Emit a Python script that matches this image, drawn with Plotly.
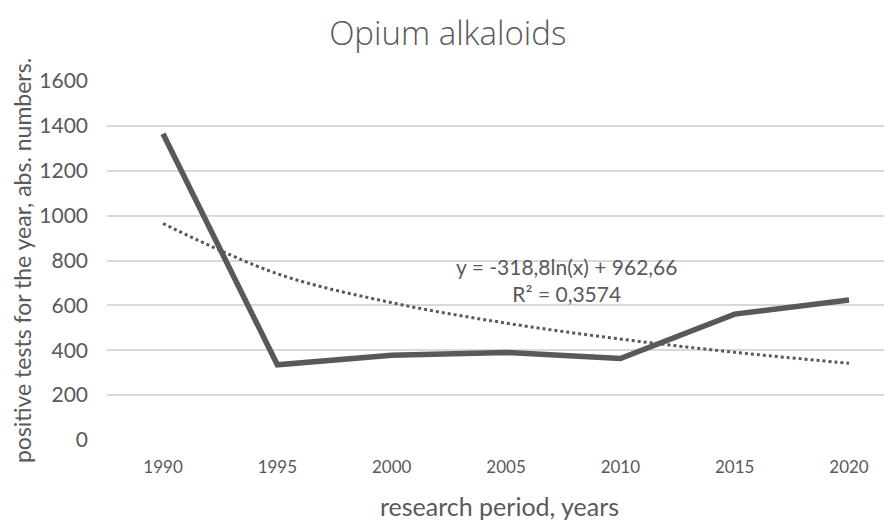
import plotly.graph_objects as go

years = ["1990", "1995", "2000", "2005", "2010", "2015", "2020"]
positives = [1365, 335, 378, 390, 363, 561, 624]
trend_values = [965, 741, 612, 521, 450, 391, 342]
y_ticks = [0, 200, 400, 600, 800, 1000, 1200, 1400, 1600]

FONT = "Lato"
GREY = "#595959"

fig = go.Figure()
fig.add_trace(go.Scatter(x=list(range(len(years))), y=positives, mode="lines",
                         line=dict(color=GREY, width=5.5), showlegend=False))
fig.add_trace(go.Scatter(x=list(range(len(years))), y=trend_values, mode="lines",
                         line=dict(color=GREY, width=3, dash="dot", shape="spline"),
                         showlegend=False))

fig.add_annotation(x=3.525, y=713, xref="x", yref="y",
                   text="y = -318,8ln(x) + 962,66<br>R² = 0,3574",
                   showarrow=False, font=dict(family=FONT, size=21, color=GREY),
                   align="center", yanchor="middle")

fig.update_layout(
    width=892, height=523,
    paper_bgcolor="white", plot_bgcolor="white",
    margin=dict(l=99, r=8, t=73, b=91),
    title=dict(text="Opium alkaloids", x=0.493, xanchor="center", y=0.952, yanchor="middle",
               font=dict(family="Open Sans", size=33, color=GREY, weight=300)),
    font=dict(family=FONT, color=GREY),
    xaxis=dict(range=[-0.49, 6.376], tickmode="array", tickvals=list(range(len(years))),
               ticktext=years, showgrid=False, zeroline=False, showline=False,
               tickfont=dict(size=17, color=GREY), ticks="", ticklabelstandoff=15,
               title=dict(text="research period, years", font=dict(size=25, color=GREY), standoff=22)),
    yaxis=dict(range=[0, 1600], tickmode="array", tickvals=y_ticks,
               showgrid=True, gridcolor="#d9d9d9", gridwidth=1.5, zeroline=False,
               showline=False, tickfont=dict(size=21, color=GREY), ticks="",
               ticklabelstandoff=18,
               title=dict(text="positive tests for the year, abs. numbers.",
                          font=dict(size=23, color=GREY), standoff=8)),
)

fig.write_html("out.html")
